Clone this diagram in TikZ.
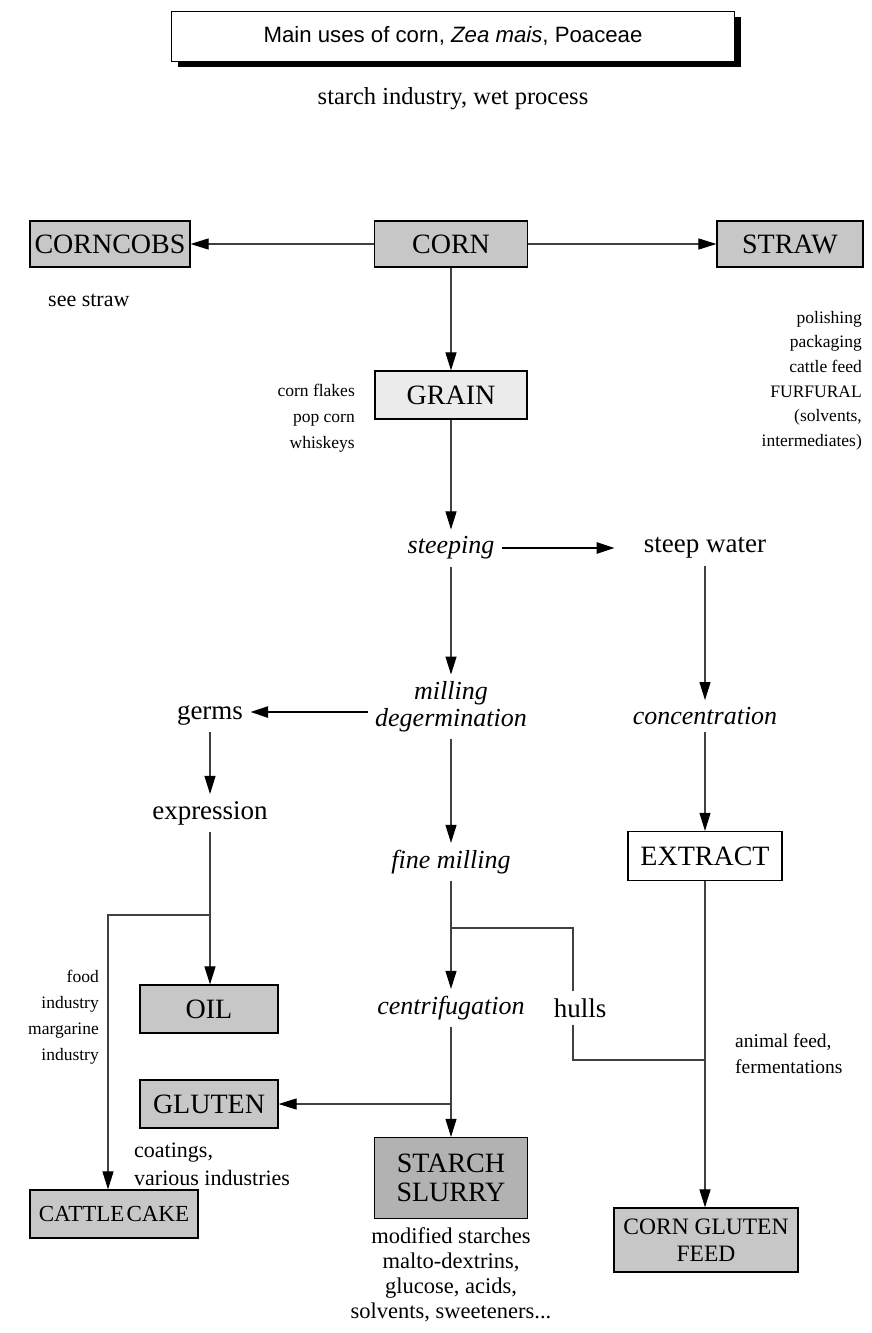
\documentclass[tikz,border=0pt]{standalone}
\usepackage{fontspec}
\setmainfont{Liberation Serif}
\newfontfamily\titlefont{Liberation Sans}
\usetikzlibrary{arrows.meta,shadows}
\begin{document}
\begin{tikzpicture}[x=1pt,y=-1pt,
 box/.style={draw=black, line width=1.2pt, fill=black!22, inner sep=0pt, align=center, font=\fontsize{28}{29}\selectfont},
 wbox/.style={box, fill=white},
 lbl/.style={inner sep=7pt, font=\fontsize{27}{28}\selectfont},
 ilbl/.style={inner sep=7pt, align=center, font=\fontsize{26}{27}\selectfont\itshape},
 note/.style={inner sep=0pt, font=\fontsize{17.5}{25}\selectfont},
 arr/.style={-{Triangle[length=18pt,width=11pt,color=black]}, line width=1.1pt, draw=black!75},
 tarr/.style={arr, line width=2.6pt, draw=black},
 ln/.style={line width=1.1pt, draw=black!75}
]
\useasboundingbox (0,0) rectangle (871,1333);
\fill[white] (0,0) rectangle (871,1333);

% title
\node[draw=black, line width=1pt, fill=white, minimum width=563pt, minimum height=50pt,
  drop shadow={shadow xshift=6pt, shadow yshift=-6pt, fill=black, opacity=1},
  font=\titlefont\fontsize{22.2}{24}\selectfont] (title) at (453,36) {Main uses of corn, \textit{Zea mais}, Poaceae};
\node[font=\fontsize{24.5}{26}\selectfont] (sub) at (453,99) {starch industry, wet process};

% top row
\node[box, minimum width=160pt, minimum height=46pt] (corncobs) at (110,244) {CORNCOBS};
\node[box, minimum width=153pt, minimum height=46pt] (corn) at (451,244) {CORN};
\node[box, minimum width=146pt, minimum height=46pt] (straw) at (790,244) {STRAW};
\node[note, anchor=west, font=\fontsize{22}{25}\selectfont] (seestraw) at (48,300) {see straw};
\node[note, align=right, anchor=north east, font=\fontsize{17.5}{24.6}\selectfont] (strawuses) at (862,311) {polishing\\packaging\\cattle feed\\FURFURAL\\(solvents,\\intermediates)};

\node[box, fill=black!8, minimum width=152pt, minimum height=48pt] (grain) at (451,395) {GRAIN};
\node[note, align=right, anchor=east, font=\fontsize{17.5}{26}\selectfont] (grainuses) at (355,418) {corn flakes\\pop corn\\whiskeys};

% process
\node[ilbl] (steeping) at (451,548) {steeping};
\node[lbl] (steepw) at (705,548) {steep water};
\node[ilbl] (milling) at (451,707) {milling\\degermination};
\node[lbl] (germs) at (210,715) {germs};
\node[lbl] (expr) at (210,813) {expression};
\node[ilbl] (conc) at (705,716) {concentration};
\node[wbox, minimum width=154pt, minimum height=49pt] (extract) at (705,856) {EXTRACT};
\node[ilbl] (fine) at (451,862) {fine milling};

\node[box, minimum width=138pt, minimum height=48pt] (oil) at (209,1009) {OIL};
\node[note, align=right, anchor=east, font=\fontsize{17.5}{26}\selectfont] (foodind) at (99,1017) {food\\industry\\margarine\\industry};
\node[ilbl] (centr) at (451,1008) {centrifugation};
\node[lbl] (hulls) at (580,1008) {hulls};
\node[note, align=left, anchor=west, font=\fontsize{19.5}{26}\selectfont] (animal) at (735,1054) {animal feed,\\fermentations};

\node[box, minimum width=138pt, minimum height=48pt] (gluten) at (209,1104) {GLUTEN};
\node[note, align=left, anchor=west, font=\fontsize{22}{28}\selectfont] (coat) at (134,1164) {coatings,\\various industries};
\node[box, fill=black!30, minimum width=153pt, minimum height=81pt] (slurry) at (451,1178) {STARCH\\SLURRY};
\node[note, align=center, anchor=north, font=\fontsize{22.5}{25.3}\selectfont] (slurryuses) at (451,1227) {modified starches\\malto-dextrins,\\glucose, acids,\\solvents, sweeteners...};

\node[box, minimum width=168pt, minimum height=48pt, font=\fontsize{23}{25}\selectfont] (cattle) at (114,1214) {CATTLE\hspace{2pt}CAKE};
\node[box, minimum width=184pt, minimum height=64pt, font=\fontsize{23.5}{27}\selectfont] (cgf) at (706,1240) {CORN GLUTEN\\FEED};

% junctions
\coordinate (j1) at (210,915);
\coordinate (j2) at (108,915);
\coordinate (j3) at (451,928);
\coordinate (h1) at (573,928);
\coordinate (h2) at (573,1060);
\coordinate (j4) at (705,1060);
\coordinate (j5) at (451,1104);

% connectors
\draw[arr] (corn) -- (corncobs);
\draw[arr] (corn) -- (straw);
\draw[arr] (corn) -- (grain);
\draw[arr] (grain) -- (steeping);
\draw[tarr, shorten >=22pt] (steeping) -- (steepw);
\draw[arr] (steepw) -- (conc);
\draw[arr] (steeping) -- (milling);
\draw[tarr] (milling.west |- 0,712) -- (germs.east |- 0,712);
\draw[arr] (germs) -- (expr);
\draw[arr] (conc) -- (extract);
\draw[arr] (milling) -- (fine);
\draw[arr] (expr.south) -- (expr.south |- oil.north);
\draw[arr] (j1) -- (j2) -- (j2 |- cattle.north);
\draw[arr] (fine) -- (centr);
\draw[ln] (j3) -- (h1) -- (h1 |- hulls.north);
\draw[ln] (h1 |- hulls.south) -- (h2) -- (j4);
\draw[arr] (extract) -- (extract.south |- cgf.north);
\draw[arr] (centr) -- (slurry);
\draw[arr] (j5) -- (j5 -| gluten.east);
\end{tikzpicture}
\end{document}
